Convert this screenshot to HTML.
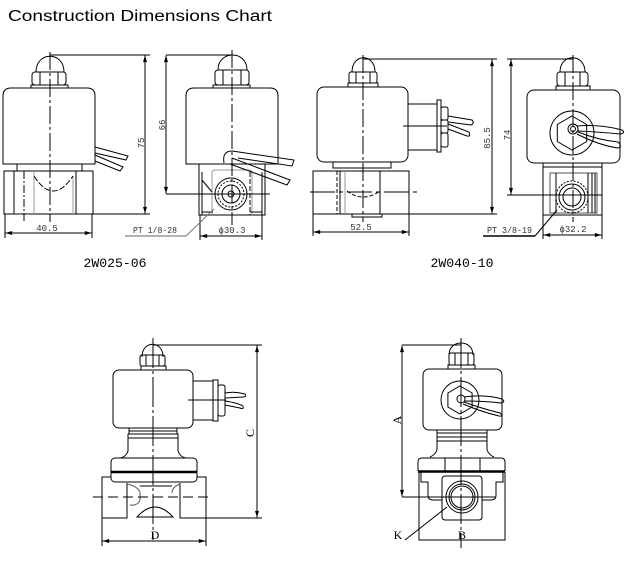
<!DOCTYPE html>
<html><head><meta charset="utf-8"><style>
html,body{margin:0;padding:0;background:#fff;}
svg{display:block;}
.d{font-family:"Liberation Mono",monospace;font-size:9px;fill:#333;}
.l{font-family:"Liberation Mono",monospace;font-size:13px;fill:#000;}
.s{font-family:"Liberation Serif",serif;font-size:12px;fill:#000;}
</style></head><body>
<svg width="630" height="565" viewBox="0 0 630 565" xmlns="http://www.w3.org/2000/svg">
<defs>
<marker id="ar" viewBox="0 0 10 6" refX="10" refY="3" markerWidth="7" markerHeight="4" orient="auto-start-reverse" markerUnits="userSpaceOnUse"><path d="M0,0 L10,3 L0,6z" fill="#000"/></marker>
</defs>
<text x="8" y="21" font-family="Liberation Sans, sans-serif" font-size="15.5" textLength="264" lengthAdjust="spacingAndGlyphs" fill="#000">Construction Dimensions Chart</text>

<g fill="none" stroke="#000" stroke-width="1">
<!-- ===== D1: 2W025 front ===== -->
<path d="M36,72 C36,51 64,51 64,72"/>
<rect x="32" y="72" width="34" height="13" rx="3"/>
<line x1="40" y1="72" x2="40" y2="85"/><line x1="58" y1="72" x2="58" y2="85"/>
<rect x="31" y="85" width="37" height="3"/>
<path d="M3,164 V96 Q3,88 11,88 H87 Q95,88 95,96 V164 Z"/>
<line x1="17" y1="164" x2="17" y2="171"/><line x1="82" y1="164" x2="82" y2="171"/>
<rect x="4" y="171" width="89" height="43"/>
<line x1="14" y1="171" x2="14" y2="214"/>
<line x1="34" y1="171" x2="34" y2="214" stroke="#999"/>
<line x1="73" y1="176" x2="73" y2="214" stroke="#999"/>
<line x1="76" y1="171" x2="76" y2="214"/>
<path d="M34,176 Q53,206 73,176" stroke-dasharray="6,2"/>
<line x1="24" y1="171" x2="24" y2="221" stroke-dasharray="8,2,2,2"/>
<line x1="50" y1="52" x2="50" y2="222" stroke-dasharray="18,3,3,3"/>
<path d="M95,147 L128,156 L126,160 L95,153"/>
<path d="M95,155 L123,167 L120,171 L95,161"/>
<line x1="50" y1="55" x2="150" y2="55"/>
<line x1="93" y1="214" x2="150" y2="214"/>
<line x1="145" y1="55.5" x2="145" y2="213.5" marker-start="url(#ar)" marker-end="url(#ar)"/>
<line x1="5" y1="214" x2="5" y2="238"/><line x1="92" y1="214" x2="92" y2="238"/>
<line x1="5.5" y1="233" x2="91.5" y2="233" marker-start="url(#ar)" marker-end="url(#ar)"/>

<!-- ===== D2: 2W025 side ===== -->
<path d="M218,70 C218,50 247,50 247,70"/>
<rect x="215" y="70" width="34" height="15" rx="3"/>
<line x1="223" y1="70" x2="223" y2="85"/><line x1="241" y1="70" x2="241" y2="85"/>
<rect x="213" y="85" width="37" height="3"/>
<path d="M186,164 V96 Q186,88 194,88 H270 Q278,88 278,96 V164 Z"/>
<rect x="199" y="164" width="66" height="51"/>
<line x1="202" y1="172" x2="202" y2="215"/>
<line x1="262" y1="172" x2="262" y2="215"/>
<line x1="250" y1="172" x2="250" y2="215" stroke-dasharray="5,2"/>
<path d="M212,215 V173 Q212,170 215,170 H249 Q252,170 252,173 V215" stroke="#999"/>
<line x1="202" y1="180" x2="212" y2="192"/>
<line x1="202" y1="212" x2="213" y2="212"/><line x1="250" y1="212" x2="262" y2="212"/>
<circle cx="231" cy="194" r="16"/>
<circle cx="231" cy="194" r="13" stroke-dasharray="2,1.5"/>
<circle cx="231" cy="194" r="9"/>
<circle cx="231" cy="194" r="3"/>
<line x1="232" y1="50" x2="232" y2="225" stroke-dasharray="18,3,3,3"/>
<line x1="166" y1="194" x2="270" y2="194"/>
<path d="M224,163 Q222,151 232,151 L294,160 L292,166 L238,158"/>
<path d="M232,158 L290,180 L287,185 L230,164"/>
<line x1="166" y1="55" x2="232" y2="55"/>
<line x1="166" y1="55.5" x2="166" y2="193.5" marker-start="url(#ar)" marker-end="url(#ar)"/>
<line x1="200" y1="215" x2="200" y2="240"/><line x1="262" y1="215" x2="262" y2="240"/>
<line x1="200.5" y1="236" x2="261.5" y2="236" marker-start="url(#ar)" marker-end="url(#ar)"/>
<line x1="125" y1="236" x2="186" y2="236" stroke="#999" stroke-width="1.5"/>
<line x1="186" y1="236" x2="214" y2="209" stroke="#777"/>

<!-- ===== D3: 2W040 front ===== -->
<path d="M352,72 C352,53 375,53 375,72"/>
<rect x="349" y="72" width="28" height="11" rx="2"/>
<line x1="356" y1="72" x2="356" y2="83"/><line x1="370" y1="72" x2="370" y2="83"/>
<rect x="348" y="83" width="30" height="4"/>
<rect x="317" y="87" width="91" height="75" rx="7"/>
<rect x="408" y="104" width="29" height="46"/>
<rect x="437" y="100" width="4" height="52"/>
<rect x="441" y="107" width="7" height="13" rx="2"/>
<rect x="441" y="120" width="7" height="13" rx="2"/>
<rect x="441" y="133" width="7" height="14" rx="2"/>
<path d="M448,116 L472,120 Q475,123 471,125 L448,122"/>
<path d="M448,124 L469,132 Q471,137 467,136 L448,129"/>
<line x1="403" y1="126" x2="447" y2="126"/>
<rect x="333" y="162" width="58" height="6"/>
<line x1="333" y1="168" x2="391" y2="168"/>
<rect x="313" y="171" width="96" height="43"/>
<line x1="337" y1="171" x2="337" y2="214" stroke-dasharray="4,2"/>
<line x1="340" y1="171" x2="340" y2="214"/>
<line x1="345" y1="171" x2="345" y2="214" stroke="#999"/>
<line x1="380" y1="171" x2="380" y2="214"/>
<path d="M352,214 V217 H382 V214"/>
<path d="M347,191 Q363,203 380,191" stroke-dasharray="4,2"/>
<line x1="363" y1="55" x2="363" y2="222" stroke-dasharray="18,3,3,3"/>
<line x1="310" y1="192" x2="420" y2="192" stroke-dasharray="25,4,4,4"/>
<line x1="363" y1="59" x2="497" y2="59"/>
<line x1="409" y1="214" x2="497" y2="214"/>
<line x1="492" y1="59.5" x2="492" y2="213.5" marker-start="url(#ar)" marker-end="url(#ar)"/>
<line x1="313" y1="214" x2="313" y2="236"/><line x1="409" y1="214" x2="409" y2="236"/>
<line x1="313.5" y1="232" x2="408.5" y2="232" marker-start="url(#ar)" marker-end="url(#ar)"/>

<!-- ===== D4: 2W040 side ===== -->
<path d="M560,72 C560,53 585,53 585,72"/>
<rect x="557" y="72" width="31" height="14" rx="3"/>
<line x1="565" y1="72" x2="565" y2="86"/><line x1="580" y1="72" x2="580" y2="86"/>
<rect x="556" y="86" width="34" height="4"/>
<rect x="527" y="90" width="93" height="73" rx="7"/>
<circle cx="572" cy="133" r="22"/>
<polygon points="572,116 586.7,124.5 586.7,141.5 572,150 557.3,141.5 557.3,124.5"/>
<circle cx="573" cy="129" r="5"/><circle cx="573" cy="129" r="2.5"/>
<path d="M577,126 Q600,124 622,130 Q626,133 620,134 Q600,132 578,131"/>
<path d="M578,132 Q598,140 618,142 Q623,147 618,148 Q598,145 577,134"/>
<rect x="543" y="163" width="59" height="4"/>
<rect x="543" y="167" width="59" height="48"/>
<rect x="550" y="173" width="47" height="40" stroke="#555"/>
<line x1="556" y1="173" x2="556" y2="213"/>
<line x1="588" y1="173" x2="588" y2="213"/>
<line x1="592" y1="173" x2="592" y2="213"/>
<line x1="595" y1="173" x2="595" y2="213"/>
<circle cx="572" cy="197" r="16" stroke-dasharray="2,1.5"/>
<circle cx="572" cy="197" r="13"/>
<circle cx="572" cy="197" r="9"/>
<line x1="573" y1="55" x2="573" y2="222" stroke-dasharray="18,3,3,3"/>
<line x1="507" y1="195" x2="602" y2="195"/>
<line x1="507" y1="59" x2="573" y2="59"/>
<line x1="511" y1="59.5" x2="511" y2="194.5" marker-start="url(#ar)" marker-end="url(#ar)"/>
<line x1="543" y1="215" x2="543" y2="239"/><line x1="602" y1="215" x2="602" y2="239"/>
<line x1="543.5" y1="235" x2="601.5" y2="235" marker-start="url(#ar)" marker-end="url(#ar)"/>
<line x1="483" y1="236" x2="535" y2="236" stroke-width="1.5"/>
<line x1="535" y1="236" x2="557" y2="210"/>

<!-- ===== D5: bottom left ===== -->
<path d="M142,357 C142,340 163,340 163,357"/>
<rect x="140" y="355" width="25" height="11" rx="2"/>
<line x1="146" y1="355" x2="146" y2="366"/><line x1="159" y1="355" x2="159" y2="366"/>
<rect x="141" y="366" width="25" height="4"/>
<rect x="113" y="370" width="80" height="58" rx="6"/>
<rect x="193" y="381" width="20" height="39"/>
<rect x="213" y="380" width="5" height="41"/>
<rect x="218" y="385" width="7" height="31" rx="2"/>
<path d="M225,393 Q235,391 245,394 Q247,397 243,397 L225,398"/>
<path d="M225,401 Q238,403 243,406 Q244,410 240,408 L225,405"/>
<line x1="188" y1="400" x2="226" y2="400"/>
<rect x="129" y="428" width="48" height="6"/>
<line x1="129" y1="431" x2="177" y2="431"/>
<path d="M128,434 H178 V451 Q180,457 186,458"/>
<path d="M128,434 V451 Q126,457 120,458"/>
<line x1="128" y1="438" x2="178" y2="438"/>
<rect x="111" y="458" width="86" height="24" rx="4"/>
<line x1="111" y1="472" x2="197" y2="472" stroke-width="2.5"/>
<path d="M111,477 H102 V518 H127 V483"/>
<path d="M197,477 H206 V518"/>
<path d="M180,483 V518 H262"/>
<path d="M127,484 Q137,486 140,492 V500 Q138,506 130,505" stroke="#555"/>
<path d="M180,484 Q172,487 172,493" stroke="#555"/>
<line x1="140" y1="486" x2="172" y2="486"/>
<path d="M137,517 Q155,497 173,517 Z"/>
<line x1="93" y1="497" x2="212" y2="497" stroke-dasharray="10,5"/>
<line x1="153" y1="338" x2="153" y2="540" stroke-dasharray="30,3,3,3"/>
<line x1="153" y1="345" x2="262" y2="345"/>
<line x1="257" y1="345.5" x2="257" y2="517.5" marker-start="url(#ar)" marker-end="url(#ar)"/>
<line x1="102" y1="518" x2="102" y2="546"/><line x1="206" y1="518" x2="206" y2="546"/>
<line x1="102.5" y1="541" x2="205.5" y2="541" marker-start="url(#ar)" marker-end="url(#ar)"/>

<!-- ===== D6: bottom right ===== -->
<path d="M449,355 C449,339 473,339 473,355"/>
<rect x="449" y="353" width="25" height="12" rx="2"/>
<line x1="455" y1="353" x2="455" y2="365"/><line x1="468" y1="353" x2="468" y2="365"/>
<rect x="448" y="365" width="27" height="4"/>
<rect x="423" y="369" width="79" height="61" rx="6"/>
<circle cx="460" cy="400" r="19"/>
<polygon points="460,386 472.1,393 472.1,407 460,414 447.9,407 447.9,393"/>
<circle cx="461" cy="399" r="4"/>
<path d="M464,397 Q485,394 502,399 Q506,402 501,403 Q485,401 464,401"/>
<path d="M464,402 Q480,408 500,413 Q504,417 499,416 Q482,412 463,404"/>
<rect x="437" y="430" width="50" height="7"/>
<line x1="437" y1="433" x2="487" y2="433"/>
<path d="M437,437 V450 Q435,455 430,457"/>
<path d="M487,437 V450 Q489,455 494,457"/>
<line x1="437" y1="441" x2="487" y2="441"/>
<path d="M418,471 V462 Q418,458 422,458 H501 Q505,458 505,462 V471"/>
<line x1="445" y1="458" x2="445" y2="471"/><line x1="480" y1="458" x2="480" y2="471"/>
<line x1="418" y1="471.5" x2="505" y2="471.5" stroke-width="2.5"/>
<path d="M419,472 V540 H505 V472"/>
<path d="M421,472 V482 H428 V495 Q428,500 433,500 H442"/>
<path d="M503,472 V482 H496 V495 Q496,500 491,500 H482"/>
<rect x="442" y="476" width="40" height="44" rx="3"/>
<circle cx="462" cy="497" r="16"/>
<circle cx="462" cy="497" r="13"/>
<circle cx="462" cy="497" r="11"/>
<line x1="461" y1="338" x2="461" y2="548" stroke-dasharray="30,3,3,3"/>
<line x1="402" y1="345" x2="461" y2="345"/>
<line x1="402" y1="497" x2="495" y2="497"/>
<line x1="402" y1="345.5" x2="402" y2="496.5" marker-start="url(#ar)" marker-end="url(#ar)"/>
<line x1="405" y1="540" x2="447" y2="507"/>
</g>

<!-- texts -->
<text class="d" transform="translate(144,143) rotate(-90)" text-anchor="middle">75</text>
<text class="d" x="47" y="231" text-anchor="middle">40.5</text>
<text class="d" transform="translate(165,125) rotate(-90)" text-anchor="middle">66</text>
<text class="d" x="232" y="233" text-anchor="middle">ϕ30.3</text>
<text class="d" x="133" y="233" textLength="44" lengthAdjust="spacingAndGlyphs">PT 1/8-28</text>
<text class="d" transform="translate(490,138) rotate(-90)" text-anchor="middle">85.5</text>
<text class="d" x="361" y="230" text-anchor="middle">52.5</text>
<text class="d" transform="translate(510,135) rotate(-90)" text-anchor="middle">74</text>
<text class="d" x="573" y="232" text-anchor="middle">ϕ32.2</text>
<text class="d" x="487" y="233" textLength="45" lengthAdjust="spacingAndGlyphs">PT 3/8-19</text>
<text class="l" x="115" y="267" text-anchor="middle" textLength="63" lengthAdjust="spacingAndGlyphs">2W025-06</text>
<text class="l" x="462" y="267" text-anchor="middle" textLength="63" lengthAdjust="spacingAndGlyphs">2W040-10</text>
<text class="s" transform="translate(254,433) rotate(-90)" text-anchor="middle">C</text>
<text class="s" x="155" y="539" text-anchor="middle">D</text>
<text class="s" transform="translate(401,420) rotate(-90)" text-anchor="middle">A</text>
<text class="s" x="398" y="539" text-anchor="middle">K</text>
<text class="s" x="462" y="539" text-anchor="middle">B</text>
</svg>
</body></html>
